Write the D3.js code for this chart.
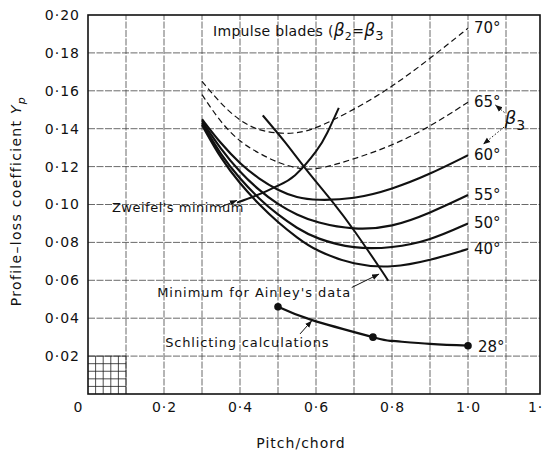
<!DOCTYPE html>
<html>
<head>
<meta charset="utf-8">
<script src="https://cdn.jsdelivr.net/npm/d3@7"></script>
<style>
  body { margin: 0; background: #fff; }
  text { font-family: "DejaVu Sans", sans-serif; fill: #111; }
</style>
</head>
<body>
<script>
// profile loss vs pitch/chord for turbine blades
var pitch = [0.3, 0.35, 0.4, 0.45, 0.5, 0.55, 0.6, 0.7, 0.8, 0.9, 1.0];

var beta70 = [0.165, 0.153, 0.144, 0.139, 0.1375, 0.1375, 0.140, 0.150, 0.162, 0.177, 0.193];
var beta65 = [0.158, 0.143, 0.133, 0.127, 0.122, 0.119, 0.118, 0.124, 0.131, 0.141, 0.154];
var beta60 = [0.145, 0.132, 0.1215, 0.1135, 0.1075, 0.1035, 0.1022, 0.1028, 0.108, 0.116, 0.126];
var beta55 = [0.144, 0.129, 0.117, 0.1075, 0.100, 0.0945, 0.0905, 0.0865, 0.088, 0.0955, 0.105];
var beta50 = [0.143, 0.126, 0.1135, 0.103, 0.0945, 0.0875, 0.082, 0.0765, 0.077, 0.081, 0.090];
var beta40 = [0.142, 0.124, 0.111, 0.100, 0.0905, 0.0825, 0.0755, 0.068, 0.0665, 0.0705, 0.0765];

var zweifelX = [0.392, 0.458, 0.5, 0.545, 0.6, 0.63, 0.66];
var zweifelY = [0.101, 0.106, 0.110, 0.1155, 0.128, 0.138, 0.151];

var ainleyX = [0.46, 0.52, 0.576, 0.645, 0.703, 0.768, 0.79];
var ainleyY = [0.147, 0.1325, 0.118, 0.101, 0.0855, 0.0665, 0.0598];

var schlX = [0.5, 0.59, 0.75, 0.8, 0.9, 1.0];
var schlY = [0.046, 0.039, 0.030, 0.028, 0.0264, 0.0255];
var schlDots = [0, 2, 5];

var xTicks = [0, 0.2, 0.4, 0.6, 0.8, 1.0, 1.2];
var yTicks = [0.02, 0.04, 0.06, 0.08, 0.10, 0.12, 0.14, 0.16, 0.18, 0.20];

var width = 543, height = 452;

var svg = d3.select("body").append("svg")
    .attr("width", width)
    .attr("height", height);

var x = d3.scaleLinear().domain([0, 1.2]).range([88, 544]);
var y = d3.scaleLinear().domain([0, 0.2]).range([394, 15]);
var right = 540;

// grid
var grid = svg.append("g").attr("stroke", "#444").attr("stroke-width", 0.8)
    .attr("stroke-dasharray", "7,1.5");
grid.selectAll(".vx").data(d3.range(1, 12).map(function(i) { return i / 10; }))
  .enter().append("line")
    .attr("x1", function(d) { return x(d); }).attr("x2", function(d) { return x(d); })
    .attr("y1", y(0)).attr("y2", y(0.2));
grid.selectAll(".hy").data(d3.range(1, 10).map(function(i) { return i / 50; }))
  .enter().append("line")
    .attr("x1", x(0)).attr("x2", right)
    .attr("y1", function(d) { return y(d); }).attr("y2", function(d) { return y(d); });

// fine grid in the corner
var fine = svg.append("g").attr("stroke", "#222").attr("stroke-width", 0.8);
fine.selectAll(".fx").data([0.02, 0.04, 0.06, 0.08])
  .enter().append("line")
    .attr("x1", function(d) { return x(d); }).attr("x2", function(d) { return x(d); })
    .attr("y1", y(0)).attr("y2", y(0.02));
fine.selectAll(".fy").data([0.004, 0.008, 0.012, 0.016])
  .enter().append("line")
    .attr("x1", x(0)).attr("x2", x(0.1))
    .attr("y1", function(d) { return y(d); }).attr("y2", function(d) { return y(d); });
fine.append("line").attr("x1", x(0.1)).attr("x2", x(0.1)).attr("y1", y(0)).attr("y2", y(0.02));
fine.append("line").attr("x1", x(0)).attr("x2", x(0.1)).attr("y1", y(0.02)).attr("y2", y(0.02));

// frame
svg.append("rect")
    .attr("x", x(0)).attr("y", y(0.2))
    .attr("width", right - x(0)).attr("height", y(0) - y(0.2))
    .attr("fill", "none").attr("stroke", "#111").attr("stroke-width", 1.6);

// axes
var xAxis = svg.append("g")
    .attr("transform", "translate(0," + y(0) + ")")
    .call(d3.axisBottom(x).tickValues(xTicks).tickSize(0).tickPadding(8)
      .tickFormat(function(d) { return d === 0 ? "0" : d3.format(".1f")(d).replace(".", "\u00b7"); }));
xAxis.select(".domain").remove();
xAxis.selectAll("text").attr("font-size", 14).attr("letter-spacing", 1)
    .attr("font-family", "DejaVu Sans").attr("fill", "#111")
    .attr("dx", function(d) { return d === 0 ? -10 : (d === 1.2 ? -4 : 0); });

var yAxis = svg.append("g")
    .attr("transform", "translate(" + x(0) + ",0)")
    .call(d3.axisLeft(y).tickValues(yTicks).tickSize(0).tickPadding(8)
      .tickFormat(function(d) { return d3.format(".2f")(d).replace(".", "\u00b7"); }));
yAxis.select(".domain").remove();
yAxis.selectAll("text").attr("font-size", 14).attr("letter-spacing", 1)
    .attr("font-family", "DejaVu Sans").attr("fill", "#111");

svg.append("text")
    .attr("x", 301).attr("y", 448)
    .attr("text-anchor", "middle").attr("font-size", 14).attr("letter-spacing", 1)
    .text("Pitch/chord");

var yt = svg.append("text")
    .attr("transform", "translate(21,201) rotate(-90)")
    .attr("text-anchor", "middle").attr("font-size", 14).attr("letter-spacing", 1.3);
yt.append("tspan").text("Profile\u2013loss coefficient ");
yt.append("tspan").attr("font-style", "italic").text("Y");
yt.append("tspan").attr("font-style", "italic").attr("font-size", 11).attr("dy", 4).text("p");

// curves
function pairs(xs, ys) { return xs.map(function(v, i) { return [v, ys[i]]; }); }

var smooth = d3.line()
    .x(function(d) { return x(d[0]); })
    .y(function(d) { return y(d[1]); })
    .curve(d3.curveBasis);

var line = d3.line()
    .x(function(d) { return x(d[0]); })
    .y(function(d) { return y(d[1]); })
    .curve(d3.curveNatural);

var series = [
  { name: "70\u00b0", vals: beta70, dash: true },
  { name: "65\u00b0", vals: beta65, dash: true },
  { name: "60\u00b0", vals: beta60, dash: false },
  { name: "55\u00b0", vals: beta55, dash: false },
  { name: "50\u00b0", vals: beta50, dash: false },
  { name: "40\u00b0", vals: beta40, dash: false }
];

svg.append("g").selectAll("path").data(series)
  .enter().append("path")
    .attr("d", function(d) { return smooth(pairs(pitch, d.vals)); })
    .attr("fill", "none").attr("stroke", "#111")
    .attr("stroke-width", function(d) { return d.dash ? 1.2 : 2.2; })
    .attr("stroke-dasharray", function(d) { return d.dash ? "6,3.5" : null; });

svg.append("g").selectAll("text").data(series)
  .enter().append("text")
    .attr("x", x(1.0) + 6)
    .attr("y", function(d) { return y(d.vals[d.vals.length - 1]) + 5; })
    .attr("font-size", 15)
    .text(function(d) { return d.name; });

svg.append("path")
    .attr("d", line(pairs(zweifelX, zweifelY)))
    .attr("fill", "none").attr("stroke", "#111").attr("stroke-width", 2);

svg.append("path")
    .attr("d", line(pairs(ainleyX, ainleyY)))
    .attr("fill", "none").attr("stroke", "#111").attr("stroke-width", 2);

svg.append("path")
    .attr("d", line(pairs(schlX, schlY)))
    .attr("fill", "none").attr("stroke", "#111").attr("stroke-width", 2.2);

svg.append("g").selectAll("circle").data(schlDots)
  .enter().append("circle")
    .attr("cx", function(i) { return x(schlX[i]); })
    .attr("cy", function(i) { return y(schlY[i]); })
    .attr("r", 3.8).attr("fill", "#111");

svg.append("text")
    .attr("x", x(1.0) + 10).attr("y", y(schlY[schlY.length - 1]) + 6)
    .attr("font-size", 15).text("28\u00b0");

// annotations
svg.append("defs").append("marker")
    .attr("id", "arr").attr("viewBox", "0 0 10 10")
    .attr("refX", 10).attr("refY", 5)
    .attr("markerWidth", 7).attr("markerHeight", 7)
    .attr("orient", "auto-start-reverse")
  .append("path").attr("d", "M0,1 L10,5 L0,9 z").attr("fill", "#111");

function arrow(x1, y1, x2, y2, dotted) {
  svg.append("line")
      .attr("x1", x(x1)).attr("y1", y(y1)).attr("x2", x(x2)).attr("y2", y(y2))
      .attr("stroke", "#111").attr("stroke-width", 1)
      .attr("stroke-dasharray", dotted ? "1.5,2" : null)
      .attr("marker-end", "url(#arr)");
}

var imp = svg.append("text").attr("x", x(0.329)).attr("y", y(0.189))
    .attr("font-size", 14).attr("letter-spacing", 0.3);
imp.append("tspan").text("Impulse blades (");
imp.append("tspan").attr("font-style", "italic").attr("font-size", 17).text("\u03b2");
imp.append("tspan").attr("font-size", 11).attr("dy", 4).text("2");
imp.append("tspan").attr("dy", -4).text("=");
imp.append("tspan").attr("font-style", "italic").attr("font-size", 17).text("\u03b2");
imp.append("tspan").attr("font-size", 13).attr("dy", 4).text("3");

svg.append("text").attr("x", x(0.063)).attr("y", y(0.096))
    .attr("font-size", 13).attr("letter-spacing", 0.5).text("Zweifel's minimum");
arrow(0.348, 0.0985, 0.392, 0.1022, false);

svg.append("text").attr("x", x(0.182)).attr("y", y(0.0512))
    .attr("font-size", 13).attr("letter-spacing", 0.95).text("Minimum for Ainley's data");
arrow(0.694, 0.0562, 0.766, 0.0633, false);

svg.append("text").attr("x", x(0.203)).attr("y", y(0.0248))
    .attr("font-size", 13).attr("letter-spacing", 0.85).text("Schlicting calculations");
arrow(0.558, 0.0317, 0.589, 0.0387, false);

var b3 = svg.append("text").attr("x", x(1.097)).attr("y", y(0.1425))
    .attr("font-size", 18);
b3.append("tspan").attr("font-style", "italic").text("\u03b2");
b3.append("tspan").attr("font-size", 14).attr("dy", 6).text("3");
arrow(1.096, 0.1485, 1.072, 0.1525, true);
arrow(1.102, 0.1420, 1.04, 0.1318, true);
</script>
</body>
</html>
